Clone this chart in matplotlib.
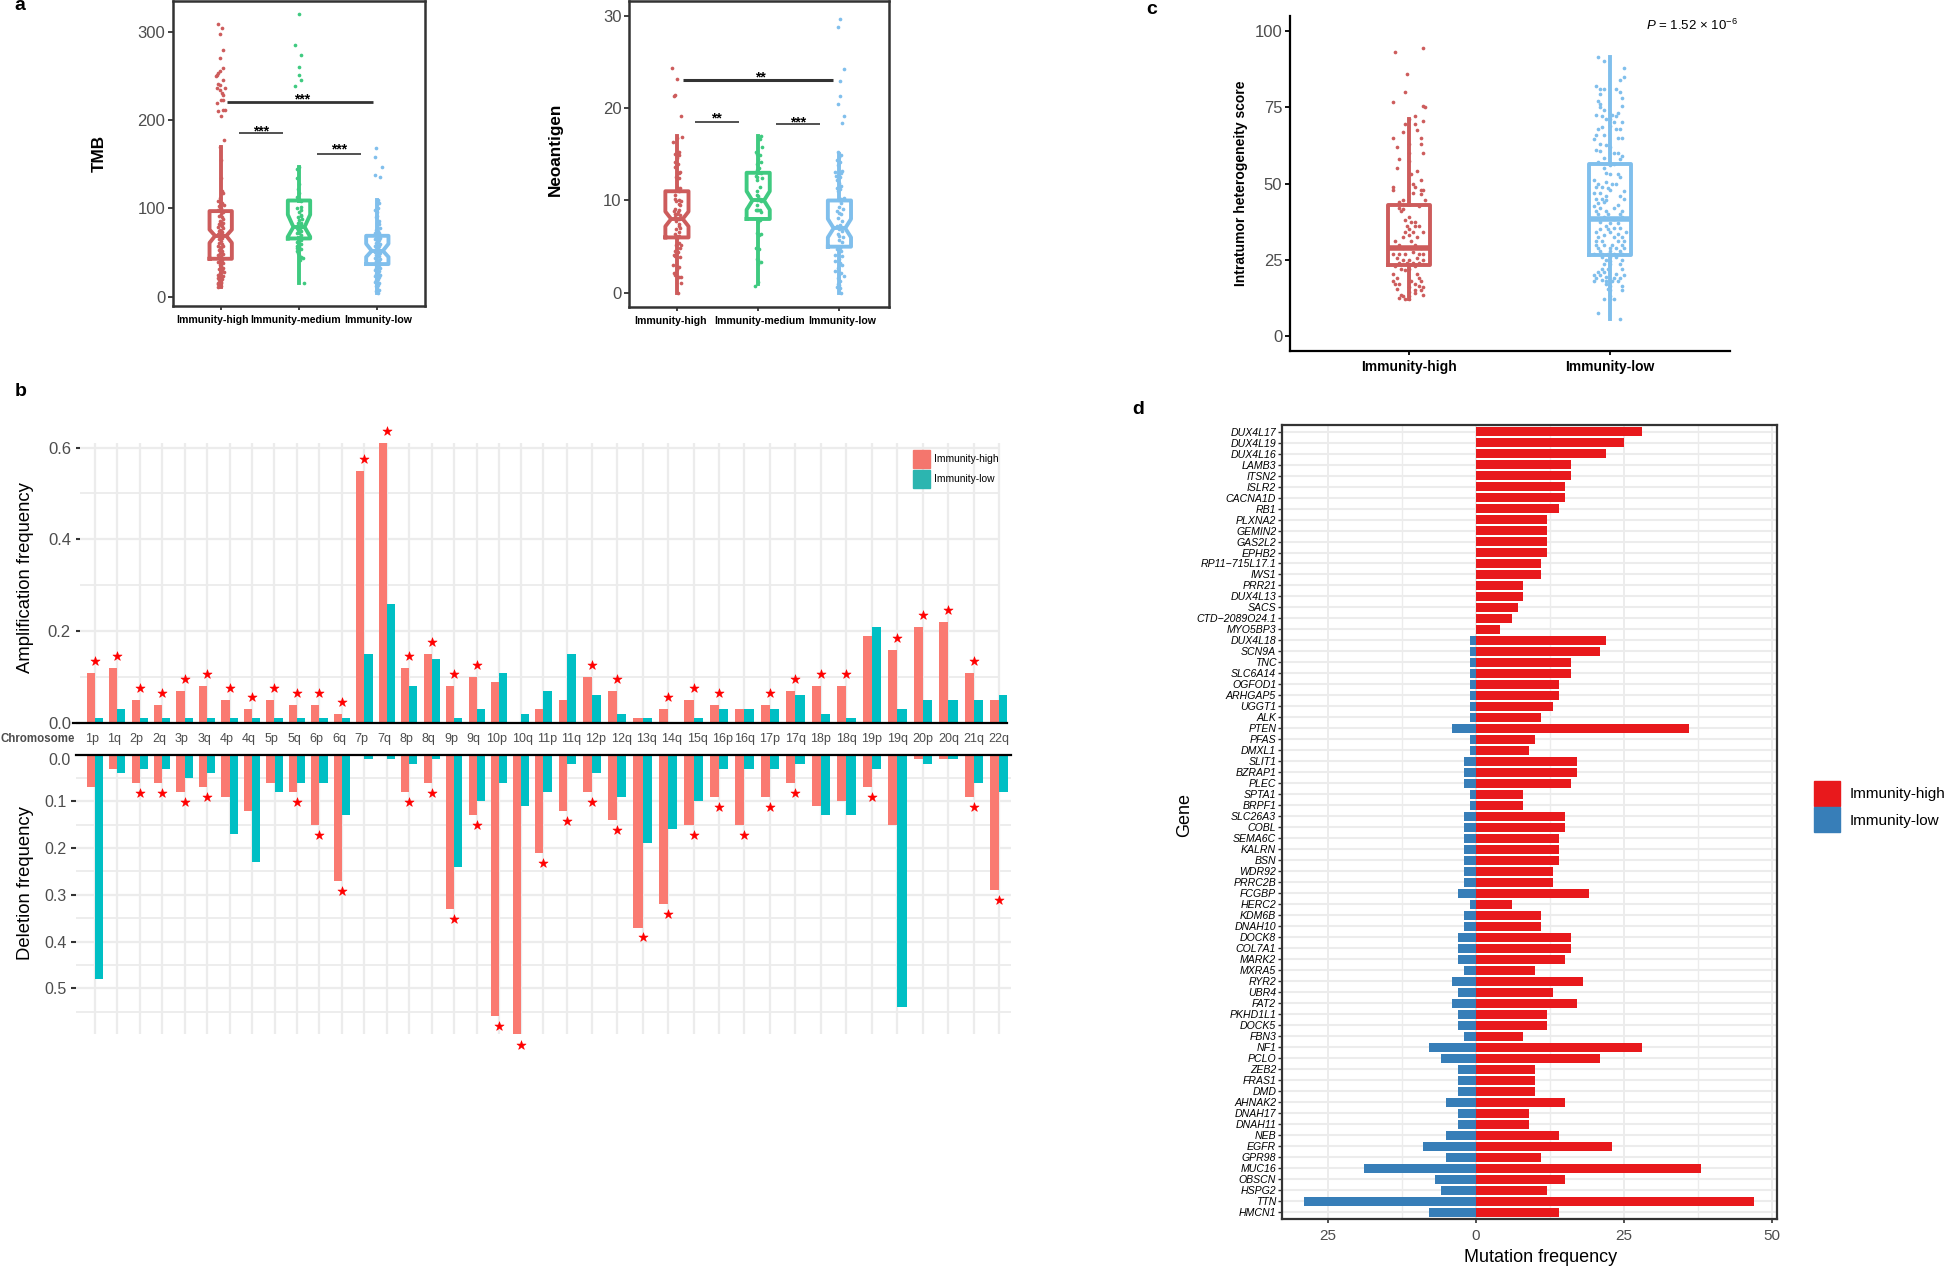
import numpy as np
import matplotlib
matplotlib.use('Agg')
import matplotlib.pyplot as plt
from matplotlib.patches import Patch
from matplotlib.ticker import NullLocator
from matplotlib.transforms import ScaledTranslation

plt.rcParams['font.family'] = ['Liberation Sans', 'DejaVu Sans']
plt.rcParams['mathtext.fontset'] = 'custom'
plt.rcParams['mathtext.rm'] = 'Liberation Sans'
plt.rcParams['mathtext.it'] = 'Liberation Sans:italic'

W, H = 1946, 1269
RED, GREEN, BLUE = '#cd5c5c', '#3fca80', '#80bfec'
GREY = '#4d4d4d'
FRAME = '#333333'
GRID = '#ececec'

# panel a: (jitter, value) per point, box stats as q1, med, q3, notch lo, notch hi, whisker lo, whisker hi
groups3 = ['Immunity-high', 'Immunity-medium', 'Immunity-low']
tmb_high_pts = [(-.04,309),(.017,304),(-.01,298),(.034,279),(-.004,270),(.026,259),(-.01,256),(-.03,254),(-.05,251),(-.06,250),
    (.026,246),(-.04,241),(-.004,240),(-.05,236),(.06,237),(-.01,234),(.013,231),(.026,228),(.01,223),(-.05,220),(.034,223),
    (-.04,210),(.034,212),(.06,211),(0,205),(.04,177),(-.01,170),(.0,155),(.01,135),(.02,120),(.03,118),(-.01,112),(-.03,108),
    (.02,106),(.04,104),(-.02,103),(.01,100),(-.03,98),(.03,96),(.0,94),(-.02,92),(.02,90),(.03,88),(-.01,86),(.01,85),(.03,84),
    (-.02,82),(.0,81),(.02,80),(-.03,79),(.03,78),(-.01,76),(.01,75),(-.02,74),(.02,73),(.0,72),(-.03,71),(.03,70),(-.01,69),
    (.01,68),(.02,66),(-.02,65),(.0,63),(-.02,61),(.02,60),(-.03,58),(.03,57),(-.01,56),(.01,55),(-.02,53),(.02,52),(.0,51),
    (-.01,49),(.03,48),(-.03,47),(.01,46),(-.02,44),(.02,42),(.0,41),(-.03,39),(.03,38),(-.01,36),(.01,35),(.03,33),(-.02,31),
    (.02,30),(.04,28),(-.01,27),(-.04,25),(.01,24),(.03,23),(-.03,21),(.02,20),(-.02,19),(.0,17),(-.03,16),(.01,15),(-.03,14),
    (-.01,13),(.0,12),(-.04,11)]
tmb_med_pts = [(0,320),(-.05,285),(.02,274),(.005,260),(0,251),(.02,245),(-.05,239),(.0,147),(-.02,145),(-.03,135),(.0,128),
    (-.01,122),(.0,118),(-.02,113),(.01,110),(.02,108),(.03,102),(-.02,100),(.02,98),(.0,96),(.03,93),(-.01,90),(.02,91),(.0,87),
    (.04,88),(-.01,84),(.02,84),(.03,82),(-.03,80),(-.02,78),(.01,78),(.03,79),(-.01,76),(.02,75),(-.02,72),(.0,72),(.02,70),
    (.01,68),(-.02,66),(-.03,62),(.03,64),(-.02,58),(.02,60),(-.03,55),(.0,56),(.03,54),(-.02,52),(-.01,50),(.0,47),(.02,45),
    (.05,44),(.01,42),(.07,15)]
tmb_low_pts = [(-.02,169),(-.035,158),(.055,147),(-.03,138),(.04,136),(.01,110),(.0,108),(.02,106),(-.01,105),(.01,100),(-.03,98),
    (-.01,96),(.0,92),(-.02,90),(.02,86),(.0,84),(.02,82),(-.01,80),(.03,78),(-.02,76),(.01,75),(.0,73),(-.03,72),(.02,72),(-.01,70),
    (.01,69),(-.02,68),(.03,67),(.0,66),(-.03,65),(.02,64),(-.01,63),(.01,62),(-.02,61),(.03,60),(.0,59),(-.03,58),(.02,57),(-.01,56),
    (.01,55),(-.02,54),(.02,53),(.0,52),(-.03,51),(.03,50),(-.01,49),(.01,48),(-.02,47),(.02,46),(.0,45),(-.03,44),(.03,43),(-.01,42),
    (.01,41),(-.02,40),(.02,39),(.0,38),(-.03,37),(.02,36),(-.01,35),(.01,34),(-.02,33),(.03,32),(.0,31),(-.03,30),(.02,29),(-.01,28),
    (.01,27),(-.02,26),(.03,25),(.0,24),(-.03,23),(.02,22),(-.01,21),(.01,20),(-.02,19),(.0,18),(-.03,17),(.02,16),(-.01,15),(.01,13),
    (-.02,12),(.0,11),(-.01,9),(.02,8),(-.02,7),(.0,5),(.01,4)]
tmb_box = [(43, 69, 97, 61, 76, 11, 170), (66, 79, 109, 68, 93, 15, 147), (37, 52, 69, 45, 60, 4, 110)]

neo_high_pts = [(-.057,24.3),(0,23.2),(-.04,21.3),(-.025,21.4),(.05,19.2),(.06,16.9),(.0,16.8),(-.05,16.3),(.02,15.2),(-.02,15),
    (.03,14.9),(.0,14.6),(-.03,14.2),(.01,14),(-.02,13.6),(.04,13.1),(.02,13),(-.01,12.5),(.03,12.4),(.0,11.5),(.04,11.3),(-.03,11),
    (.02,11),(-.02,10.6),(-.03,10.2),(.03,10.1),(-.01,9.9),(.05,9.9),(.03,9.6),(.04,9.5),(-.02,9.1),(.03,9),(-.04,8.9),(.01,8.8),(-.03,8.5),
    (.0,8.5),(.04,8.4),(-.02,8.2),(.02,8),(-.01,7.8),(.03,7.5),(.02,7.2),(.04,7),(-.01,6.9),(.03,6.6),(-.02,6.4),(.02,6.2),(.0,5.9),
    (.03,5.4),(-.01,5.2),(.05,5.2),(.04,4.9),(-.03,4.5),(.01,4.4),(-.04,4.1),(-.02,4),(.04,3.9),(-.05,3),(.02,2.8),(.0,2.6),(-.04,2.2),
    (-.03,1.9),(.05,1.7),(.03,1.7),(.05,1.1),(.01,0)]
neo_med_pts = [(.04,17),(.02,16.7),(.05,15.8),(-.03,15.2),(-.02,15),(.02,14.9),(.0,14.5),(-.02,14),(.03,14.2),(.01,13.5),(-.02,13.3),(.03,13),
    (-.03,12.6),(-.02,12.5),(.05,12.4),(-.01,12.2),(.02,11.5),(-.01,11),(-.02,10.6),(.0,10.5),(.02,10.2),(-.02,10),(.01,10),(.03,9.9),(-.01,9.5),
    (-.03,9),(-.02,9),(.0,9),(.02,9),(.03,8.8),(-.01,8),(.02,7.9),(.0,7.7),(.03,6.4),(-.02,6.5),(.01,6.3),(-.03,4.9),(.01,4.8),(-.02,3.7),(.0,3.6),
    (.03,3.3),(.0,3.1),(.0,1.2),(-.04,.7)]
neo_low_pts = [(.01,29.7),(-.02,28.8),(.05,24.2),(.01,22.9),(.01,21.3),(-.02,20.4),(.05,19.1),(.03,18.4),(-.02,15.2),(.02,14.9),(.0,14.7),
    (-.03,14.4),(.01,14.2),(-.02,13.8),(.03,13.2),(-.05,13.1),(.02,13),(-.04,12.7),(.01,12.5),(-.03,12.2),(.0,11.9),(.02,11.6),(-.03,11.3),
    (.01,11.2),(-.02,11),(.05,10.3),(.02,10.2),(-.01,10),(.02,9.7),(-.01,9.3),(.04,9.1),(-.03,8.9),(.0,8.6),(.02,8.5),(-.02,8.1),(.03,7.8),
    (.01,7.4),(-.03,7.2),(.02,7.1),(-.01,6.9),(.03,6.7),(-.02,6.4),(.0,6.2),(.04,6),(-.01,5.7),(.03,5.5),(-.02,5),(.01,4.9),(-.03,4.7),(.02,4.5),
    (-.05,4.1),(.03,4),(.0,3.7),(-.05,3.4),(.01,3.2),(.03,3),(-.02,2.7),(-.05,2.4),(.02,2.2),(.0,2),(.05,1.8),(-.02,1.6),(.01,1.3),(-.02,1),(.0,.8),
    (-.03,.6),(.01,.5),(.02,0)]
neo_box = [(6, 8, 11, 7.2, 8.8, 0, 17), (8, 10, 13, 9, 11, 1, 17), (5, 7, 10, 6, 8, 0, 15)]

# panel c
groups2 = ['Immunity-high', 'Immunity-low']
ith_high_pts = [(-.07,93),(.07,94.5),(-.01,86),(-.02,80),(-.08,76.7),(.07,75.4),(.08,75),(.03,72),(.0,71),(-.02,69.5),(.03,69.5),(.07,70.5),
    (-.03,67),(.04,67.5),(-.08,65),(.06,65),(.0,63),(.06,63),(-.06,62),(.07,60),(.0,60),(-.05,58),(.0,57.5),(-.06,55),(.04,54),(.01,53),(-.08,49),
    (-.08,48),(.02,50),(.03,49),(.06,51),(.06,48),(.07,48),(.02,47),(.06,46.5),(.08,44.5),(-.05,44),(-.03,44.5),(-.05,42),(-.03,41.5),(-.04,41),
    (.05,42.5),(.0,39),(-.02,38),(.01,37.5),(.03,37.5),(-.01,36),(.03,36),(.05,36),(.0,35),(-.02,34),(.02,34),(.07,34),(.0,33),(-.03,32.5),(.04,32.5),
    (.01,31),(-.07,31),(-.05,30),(.03,30),(-.03,29),(.01,29),(.06,29),(-.08,27),(-.05,27),(-.02,27),(.02,27.5),(.05,27),(.07,27),(-.06,25.5),(-.03,25),
    (.0,25),(.04,25.5),(.07,25),(-.05,24),(-.01,24),(.02,24),(.05,24),(-.07,23),(.03,23),(-.04,22),(-.02,21.5),(.0,22),(-.08,20.5),(.04,20.5),(-.06,19),
    (.05,19),(-.08,18),(.01,18),(.06,18),(-.07,17),(-.05,17),(.03,17),(.05,16.5),(.07,16),(-.06,15.5),(.0,16),(.03,15),(.06,15),(.0,14.5),(.03,14),
    (-.04,13.5),(-.03,13),(.0,13),(.07,13.5),(-.05,12.5),(-.02,12),(.0,12.2)]
ith_low_pts = [(-.06,91.5),(-.03,90),(.07,88),(.07,85),(.05,84),(-.07,82),(-.05,81),(-.03,81),(.03,81),(.05,80),(-.05,79.5),(.06,78),(-.06,77),(-.05,76),
    (.06,75.5),(-.05,75),(-.03,74),(.04,73),(-.07,72.5),(-.04,72),(.01,72.5),(.03,72),(-.02,71),(.0,71),(.02,70),(.06,70),(-.04,68.5),(-.06,68),(.0,69),
    (.03,68),(.05,68),(-.07,66),(-.03,66),(.04,65),(.06,65),(-.08,64.5),(-.05,63),(-.02,62.5),(.0,62),(-.07,61),(-.05,60.5),(.02,60),(.04,60),(.06,59),
    (-.03,58.5),(.05,58),(-.06,57),(.0,56),(.02,56.5),(-.03,55),(-.02,53.5),(.0,53),(.04,53),(.05,52),(-.08,51),(-.06,50),(-.02,50.5),(.01,50),(.03,50),
    (-.07,49),(-.04,49),(-.01,48.5),(.0,48),(.07,47.5),(-.08,47),(-.05,47),(-.02,46),(.05,46),(-.07,45),(-.04,45),(-.02,44.5),(.07,45),(-.06,43.5),(-.03,44),
    (.04,43),(-.08,42.5),(-.05,42),(.02,42),(-.07,41),(-.02,41),(.06,41),(-.06,40),(-.01,40),(.05,40),(-.03,39),(.02,38.5),(.06,39),(-.05,37.5),(.0,37),
    (.04,37),(-.02,36),(.02,35.5),(-.05,35),(-.01,35),(.05,35.5),(-.07,34),(.0,34),(.04,33.5),(.08,34),(-.06,32.5),(-.03,33),(.02,32.5),(.06,32.5),(-.07,31),
    (-.04,31),(.04,31),(.07,31),(-.07,30),(-.03,30),(.01,30),(.06,30),(-.06,29),(.0,29),(.03,29),(.07,29),(-.05,28),(.0,28),(.05,28),(-.08,27),(-.04,27),
    (-.01,27),(.02,27),(.06,27),(-.04,26),(.0,26),(.03,26),(-.02,25),(.0,24.5),(.06,25),(-.03,23.5),(.0,23.5),(.05,23.5),(-.04,22),(-.01,22),(.06,22),(-.06,21),
    (-.03,21),(.03,20.5),(-.08,20),(-.05,20),(-.02,19.5),(.07,20),(-.07,19),(-.04,18.5),(.02,19),(.05,19),(-.08,18),(-.02,18),(.01,18),(.04,18),(-.02,17),(.0,16.5),
    (.06,16.5),(-.01,15.5),(.0,15),(.06,15),(.0,13),(-.03,12),(.0,12),(.02,12),(-.06,7.5),(.05,5.5)]
ith_box = [(23.3, 28.7, 43, 71, 12), (26.5, 38.3, 56.5, 91.5, 5.5)]

# panel b
chroms = ['1p','1q','2p','2q','3p','3q','4p','4q','5p','5q','6p','6q','7p','7q','8p','8q','9p','9q','10p','10q','11p','11q','12p',
          '12q','13q','14q','15q','16p','16q','17p','17q','18p','18q','19p','19q','20p','20q','21q','22q']
amp_high = [.11,.12,.05,.04,.07,.08,.05,.03,.05,.04,.04,.02,.55,.61,.12,.15,.08,.10,.09,0,.03,.05,.10,.07,.01,.03,.05,.04,.03,.04,.07,.08,.08,.19,.16,.21,.22,.11,.05]
amp_low = [.01,.03,.01,.01,.01,.01,.01,.01,.01,.01,.01,.01,.15,.26,.08,.14,.01,.03,.11,.02,.07,.15,.06,.02,.01,0,.01,.03,.03,.03,.06,.02,.01,.21,.03,.05,.05,.05,.06]
del_high = [.07,.03,.06,.06,.08,.07,.09,.12,.06,.08,.15,.27,0,0,.08,.06,.33,.13,.56,.60,.21,.12,.08,.14,.37,.32,.15,.09,.15,.09,.06,.11,.10,.07,.15,.01,.01,.09,.29]
del_low = [.48,.04,.03,.03,.05,.04,.17,.23,.08,.06,.06,.13,.01,.01,.02,.01,.24,.10,.06,.11,.08,.02,.04,.09,.19,.16,.10,.03,.03,.03,.02,.13,.13,.03,.54,.02,.01,.06,.08]
amp_sig = [1,1,1,1,1,1,1,1,1,1,1,1,1,1,1,1,1,1,0,0,0,0,1,1,0,1,1,1,0,1,1,1,1,0,1,1,1,1,0]
del_sig = [0,0,1,1,1,1,0,0,0,1,1,1,0,0,1,1,1,1,1,1,1,1,1,1,1,1,1,1,1,1,1,0,0,1,0,0,0,1,1]

# panel d
genes = ['DUX4L17','DUX4L19','DUX4L16','LAMB3','ITSN2','ISLR2','CACNA1D','RB1','PLXNA2','GEMIN2','GAS2L2','EPHB2','RP11\u2212715L17.1','IWS1','PRR21',
         'DUX4L13','SACS','CTD\u22122089O24.1','MYO5BP3','DUX4L18','SCN9A','TNC','SLC6A14','OGFOD1','ARHGAP5','UGGT1','ALK','PTEN','PFAS','DMXL1','SLIT1',
         'BZRAP1','PLEC','SPTA1','BRPF1','SLC26A3','COBL','SEMA6C','KALRN','BSN','WDR92','PRRC2B','FCGBP','HERC2','KDM6B','DNAH10','DOCK8','COL7A1','MARK2',
         'MXRA5','RYR2','UBR4','FAT2','PKHD1L1','DOCK5','FBN3','NF1','PCLO','ZEB2','FRAS1','DMD','AHNAK2','DNAH17','DNAH11','NEB','EGFR','GPR98','MUC16',
         'OBSCN','HSPG2','TTN','HMCN1']
mut_high = [28,25,22,16,16,15,15,14,12,12,12,12,11,11,8,8,7,6,4,22,21,16,16,14,14,13,11,36,10,9,17,17,16,8,8,15,15,14,14,14,13,13,19,6,11,11,16,16,15,
            10,18,13,17,12,12,8,28,21,10,10,10,15,9,9,14,23,11,38,15,12,47,14]
mut_low = [0,0,0,0,0,0,0,0,0,0,0,0,0,0,0,0,0,0,0,1,1,1,1,1,1,1,1,4,1,1,2,2,2,1,1,2,2,2,2,2,2,2,3,1,2,2,3,3,3,2,4,3,4,3,3,2,8,6,3,3,3,5,3,3,5,9,5,19,7,6,29,8]


def add_ax(l, t, r, b):
    return fig.add_axes([l / W, 1 - b / H, (r - l) / W, (b - t) / H])


def fig_text(x, y, s, **kw):
    fig.text(x / W, 1 - y / H, s, **kw)


def shift_labels(ax, dxs):
    for lab, dx in zip(ax.get_xticklabels(), dxs):
        lab.set_transform(lab.get_transform() + ScaledTranslation(dx / 100, 0, fig.dpi_scale_trans))


def notch_panel(ax, pts, boxes, colors, bars, stars):
    for i, (p, col) in enumerate(zip(pts, colors)):
        p = np.array(p)
        ax.scatter(i + p[:, 0], p[:, 1], s=7, color=col, linewidths=0, zorder=3)
        q1, med, q3, cilo, cihi, lo, hi = boxes[i]
        st = [dict(q1=q1, med=med, q3=q3, cilo=cilo, cihi=cihi, whislo=lo, whishi=hi, fliers=[])]
        line = dict(color=col, linewidth=2.8)
        ax.bxp(st, positions=[i], widths=0.285, shownotches=True, showcaps=False, showfliers=False, manage_ticks=False,
               boxprops=line, medianprops=line, whiskerprops=line, zorder=2)
    for x0, x1, y, lw in bars:
        ax.plot([x0, x1], [y, y], color=FRAME, lw=lw, solid_capstyle='butt')
    for x, y, s in stars:
        ax.text(x, y, s, ha='center', va='baseline', fontsize=10, fontweight='bold', color='black')
    ax.set_xticks([0, 1, 2])
    ax.set_xticklabels(groups3, fontsize=7.6, fontweight='bold', color='black')
    ax.tick_params(axis='x', length=3, width=1.3, color=FRAME, pad=3.5)
    ax.tick_params(axis='y', length=3.5, width=1.3, color=FRAME, labelsize=12, labelcolor=GREY, pad=2)
    for s in ax.spines.values():
        s.set_linewidth(1.8)
        s.set_color(FRAME)


fig = plt.figure(figsize=(W / 100, H / 100), dpi=100)

# a, TMB
ax = add_ax(173, 1, 425, 306)
notch_panel(ax, [tmb_high_pts, tmb_med_pts, tmb_low_pts], tmb_box, [RED, GREEN, BLUE],
            [(.077, 1.94, 221, 2), (.234, .79, 185.6, 1.2), (1.226, 1.787, 162, 1.2)],
            [(1.037, 218.6, '***'), (.51, 183, '***'), (1.51, 162, '***')])
ax.set_xlim(-.609, 2.609)
ax.set_ylim(-10.5, 335)
ax.set_yticks([0, 100, 200, 300])
shift_labels(ax, [-8, -3, 1])
fig_text(99, 153, 'TMB', rotation=90, ha='center', va='center', fontsize=12.3, fontweight='bold')

# a, neoantigen
ax = add_ax(629, 1, 889, 306.7)
notch_panel(ax, [neo_high_pts, neo_med_pts, neo_low_pts], neo_box, [RED, GREEN, BLUE],
            [(.074, 1.918, 23.1, 2.2), (.217, .766, 18.55, 1.2), (1.22, 1.766, 18.27, 1.2)],
            [(1.03, 22.9, '**'), (.49, 18.4, '**'), (1.49, 18.05, '***')])
ax.set_xlim(-.59, 2.61)
ax.set_ylim(-1.5, 31.6)
ax.set_yticks([0, 10, 20, 30])
shift_labels(ax, [-6, 1, 3])
fig_text(555, 149, 'Neoantigen', rotation=90, ha='center', va='center', fontsize=12.3, fontweight='bold')

# c
ax = add_ax(1290, 15.7, 1729.6, 350.7)
for i, (p, col) in enumerate(zip([ith_high_pts, ith_low_pts], [RED, BLUE])):
    p = np.array(p)
    ax.scatter(i + p[:, 0], p[:, 1], s=7, color=col, linewidths=0, zorder=3)
    q1, med, q3, hi, lo = ith_box[i]
    line = dict(color=col, linewidth=2.8)
    med_line = dict(color=col, linewidth=4)
    ax.bxp([dict(q1=q1, med=med, q3=q3, whislo=lo, whishi=hi, fliers=[])], positions=[i], widths=.21, showcaps=False,
           showfliers=False, manage_ticks=False, boxprops=line, medianprops=med_line, whiskerprops=line, zorder=2)
ax.set_xlim(-.593, 1.598)
ax.set_ylim(-4.8, 105)
ax.set_xticks([0, 1])
ax.set_xticklabels(groups2, fontsize=10, fontweight='bold', color='black')
ax.set_yticks([0, 25, 50, 75, 100])
ax.tick_params(axis='x', length=3, width=1.3, pad=3.5)
ax.tick_params(axis='y', length=3.5, width=1.3, labelsize=12, labelcolor=GREY, pad=2)
ax.spines[['top', 'right']].set_visible(False)
ax.spines[['left', 'bottom']].set_linewidth(1.6)
fig_text(1241, 183, 'Intratumor heterogeneity score', rotation=90, ha='center', va='center', fontsize=10, fontweight='bold')
fig_text(1692, 25, r'$\mathit{P}$ = 1.52 × 10$^{-6}$', ha='center', va='center', fontsize=9.5)

# b, both halves share the same stretched category axis
knots_i = [-2, 18, 20, 22, 38, 40]
knots_px = [49.7, 499.3, 543, 591.6, 999.3, 1050.3]
x = np.arange(len(chroms))
bw = .36
SALMON, TEAL = '#fa7a71', '#00bfc4'


def cat_scale(ax, left, right):
    ax.set_xscale('function', functions=(lambda v: np.interp(v, knots_i, knots_px), lambda v: np.interp(v, knots_px, knots_i)))
    ax.set_xlim(np.interp(left, knots_px, knots_i), np.interp(right, knots_px, knots_i))
    ax.set_xticks(x)
    ax.xaxis.set_minor_locator(NullLocator())
    ax.grid(True, axis='x', color=GRID, lw=1.6)
    ax.set_axisbelow(True)
    for s in ax.spines.values():
        s.set_visible(False)


top = add_ax(80, 443, 1007, 723)
cat_scale(top, 80, 1007)
top.bar(x - bw / 2, amp_high, bw, color=SALMON, zorder=2)
top.bar(x + bw / 2, amp_low, bw, color=TEAL, zorder=2)
top.set_ylim(0, .61)
top.set_yticks([0, .2, .4, .6])
top.hlines([.2, .4, .6], top.get_xlim()[0], x[-1], color=GRID, lw=1.6, zorder=.5)
top.hlines([.1, .3, .5], top.get_xlim()[0], x[-1], color=GRID, lw=1.3, zorder=.5)
top.tick_params(axis='y', which='major', length=3, width=1.5, color=FRAME, labelsize=12, labelcolor=GREY, pad=3.5)
top.tick_params(axis='x', length=0, labelsize=9, labelcolor=GREY, pad=7)
top.set_xticklabels(chroms)
shift_labels(top, [-3 if i <= 18 else 1 if i == 19 else 4 if i <= 27 else 0 for i in x])
top.axhline(0, xmin=-.0075, xmax=1, color='black', lw=1.6, clip_on=False, zorder=4)
amp_high_a, amp_sig_a = np.array(amp_high), np.array(amp_sig, dtype=bool)
top.scatter(x[amp_sig_a], amp_high_a[amp_sig_a] + .026, marker='*', s=48, color='#ff0000', linewidths=.4, clip_on=False, zorder=5)

low = add_ax(76, 754.7, 1010.7, 1034)
cat_scale(low, 76, 1010.7)
low.bar(x - bw / 2, del_high, bw, color=SALMON, zorder=2)
low.bar(x + bw / 2, del_low, bw, color=TEAL, zorder=2)
low.set_ylim(.598, 0)
low.set_yticks([.1, .2, .3, .4, .5])
low.set_yticks([.05, .15, .25, .35, .45, .55], minor=True)
low.grid(True, axis='y', which='major', color=GRID, lw=1.6)
low.grid(True, axis='y', which='minor', color=GRID, lw=1.3)
low.tick_params(axis='y', which='major', length=3.5, width=1.5, color=FRAME, labelsize=11.5, labelcolor=GREY, pad=3)
low.tick_params(axis='y', which='minor', length=0)
low.tick_params(axis='x', length=0, labelbottom=False)
low.axhline(0, color='black', lw=1.6, clip_on=False, zorder=4)
del_high_a, del_sig_a = np.array(del_high), np.array(del_sig, dtype=bool)
low.scatter(x[del_sig_a], del_high_a[del_sig_a] + .021, marker='*', s=48, color='#ff0000', linewidths=.4, clip_on=False, zorder=5)

fig_text(70.5, 760.7, '0.0', ha='right', va='center', fontsize=11.5, color=GREY)
fig_text(38, 739.5, 'Chromosome', ha='center', va='center', fontsize=8.3, fontweight='bold', color=GREY)
fig_text(26, 578, 'Amplification frequency', rotation=90, ha='center', va='center', fontsize=13.3)
fig_text(26, 883, 'Deletion frequency', rotation=90, ha='center', va='center', fontsize=13.3)
fig.legend(handles=[Patch(color='#f4766d', label='Immunity-high'), Patch(color='#2cb5b0', label='Immunity-low')],
           loc='upper left', bbox_to_anchor=(913 / W, 1 - 450 / H), frameon=False, borderpad=0, borderaxespad=0, fontsize=7.4,
           handlelength=1.69, handleheight=2.36, handletextpad=.39, labelspacing=.15)

# d
ax = add_ax(1281.8, 424.7, 1776.9, 1219)
y = np.arange(len(genes))
ax.barh(y, mut_high, .76, color='#e8191c')
ax.barh(y, -np.array(mut_low), .76, color='#377eb8')
ax.set_xlim(-32.8, 50.8)
ax.set_ylim(len(genes) - 1 + .6, -.62)
ax.set_yticks(y)
ax.set_yticklabels(genes, style='italic', fontsize=7.6)
ax.set_xticks([-25, 0, 25, 50])
ax.set_xticklabels(['25', '0', '25', '50'], fontsize=11, color=GREY)
ax.set_xticks([-12.5, 12.5, 37.5], minor=True)
ax.grid(True, axis='x', which='major', color=GRID, lw=1.4)
ax.grid(True, axis='x', which='minor', color=GRID, lw=1)
ax.grid(True, axis='y', color=GRID, lw=1.5)
ax.set_axisbelow(True)
ax.tick_params(axis='y', length=3, width=1, color=FRAME, pad=1)
ax.tick_params(axis='x', which='major', length=3, width=1.2, color=FRAME, pad=4)
ax.tick_params(axis='x', which='minor', length=0)
for s in ax.spines.values():
    s.set_linewidth(1.6)
    s.set_color(FRAME)
fig_text(1185, 815, 'Gene', rotation=90, ha='center', va='center', fontsize=13)
fig_text(1541, 1258, 'Mutation frequency', ha='center', va='center', fontsize=13)
fig.legend(handles=[Patch(color='#e8191c', label='Immunity-high'), Patch(color='#377eb8', label='Immunity-low')],
           loc='upper left', bbox_to_anchor=(1814 / W, 1 - 780.7 / H), frameon=False, borderpad=0, borderaxespad=0, fontsize=11,
           handlelength=1.7, handleheight=2.14, handletextpad=.6, labelspacing=.1)

for s, px, py in [('a', 20, 6), ('b', 21, 391), ('c', 1152, 10), ('d', 1138, 409)]:
    fig_text(px, py, s, ha='center', va='center', fontsize=14, fontweight='bold')

plt.savefig('out.png', dpi=100)
